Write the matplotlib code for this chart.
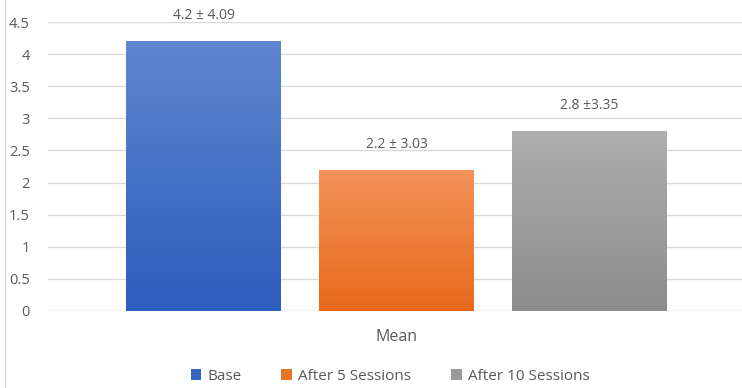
import numpy as np
import matplotlib.pyplot as plt
from matplotlib.colors import LinearSegmentedColormap
from matplotlib.lines import Line2D
from matplotlib.patches import Patch

groups = ["Base", "After 5 Sessions", "After 10 Sessions"]
means = [4.2, 2.2, 2.8]
labels = ["4.2 \u00b1 4.09", "2.2 \u00b1 3.03", "2.8 \u00b13.35"]
# (top colour, bottom colour) of each gradient
grads = [("#5F86CF", "#2C5DBD"), ("#F3925A", "#E8691A"), ("#AEAEAE", "#8C8C8C")]
legend_cols = ["#3464C0", "#EC7425", "#9A9A9A"]
yticks = [0, 0.5, 1, 1.5, 2, 2.5, 3, 3.5, 4, 4.5]

txt = "#595959"
plt.rcParams['font.family'] = ['Open Sans', 'DejaVu Sans']

fig = plt.figure(figsize=(7.42, 3.88), dpi=100)
ax = fig.add_axes([48 / 742, 1 - 311 / 388, 1 - 48 / 742, 289 / 388])

x = np.arange(len(groups))
w = 0.803
bars = ax.bar(x, means, width=w, color="none", zorder=2)
for b, (top, bot) in zip(bars, grads):
    cmap = LinearSegmentedColormap.from_list("g", [bot, top])
    grad = np.linspace(0, 1, 256).reshape(-1, 1)
    im = ax.imshow(grad, cmap=cmap, aspect="auto", origin="lower",
                   extent=[b.get_x(), b.get_x() + b.get_width(), 0, b.get_height()],
                   zorder=2)
    im.set_clip_path(b)

for xi, m, lab in zip(x, means, labels):
    ax.annotate(lab, (xi, m), xytext=(0, 13), textcoords="offset points",
                ha="center", va="bottom", fontsize=10, color=txt)

ax.set_xlim(-0.808, 2.79)
ax.set_ylim(0, 4.5)
ax.set_yticks(yticks)
ax.set_yticklabels([f"{t:g}" for t in yticks], fontsize=10.5, color=txt)
ax.tick_params(axis="y", length=0, pad=13)
ax.set_xticks([])
ax.yaxis.grid(True, color="#D9D9D9", linewidth=1)
ax.set_axisbelow(True)
for s in ax.spines.values():
    s.set_visible(False)
ax.axhline(0, color="#D9D9D9", linewidth=1, zorder=1)

fig.text(397 / 742, 1 - 337 / 388, "Mean", ha="center", va="center",
         fontsize=11.5, color=txt)

handles = [Patch(facecolor=c, edgecolor="none") for c in legend_cols]
fig.legend(handles, groups, loc="center", bbox_to_anchor=(390 / 742, 1 - 376 / 388),
           ncol=3, frameon=False, fontsize=11, labelcolor=txt,
           handlelength=0.7, handleheight=0.7, handletextpad=0.4, columnspacing=2.6)

fig.add_artist(Line2D([5 / 742, 5 / 742], [0, 1], color="#D9D9D9", linewidth=1,
                      transform=fig.transFigure))

fig.savefig("out.png", dpi=100)
